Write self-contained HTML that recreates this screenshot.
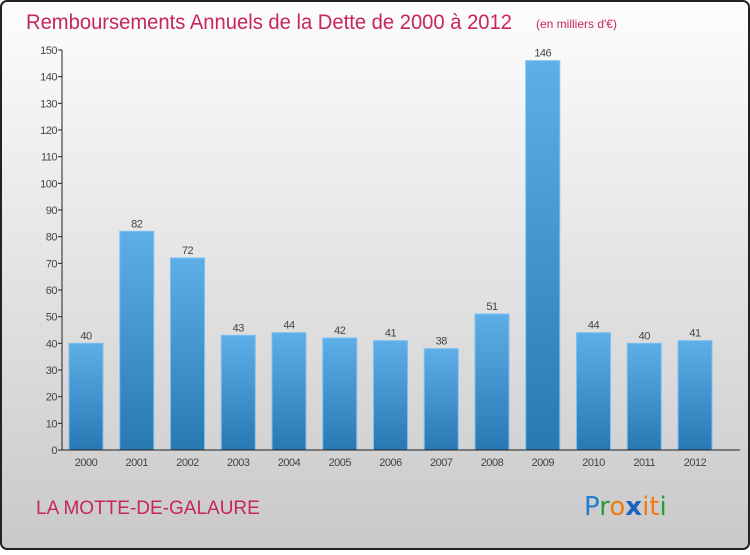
<!DOCTYPE html>
<html><head><meta charset="utf-8"><style>
html,body{margin:0;padding:0}
body{width:750px;height:550px;overflow:hidden;font-family:"Liberation Sans",sans-serif}
</style></head><body>
<svg id="chart" width="750" height="550" xmlns="http://www.w3.org/2000/svg">
<defs>
<linearGradient id="bg" x1="0" y1="0" x2="0" y2="1"><stop offset="0" stop-color="#fdfdfd"/><stop offset="1" stop-color="#c9c9c9"/></linearGradient>
<linearGradient id="bar" x1="0" y1="0" x2="0" y2="1"><stop offset="0" stop-color="#5eaee8"/><stop offset="1" stop-color="#2878b4"/></linearGradient>
</defs>
<rect x="1" y="1" width="748" height="548" rx="6" fill="url(#bg)" stroke="#222" stroke-width="2"/>
<text x="26" y="29" font-size="21" fill="#c8255a" textLength="486" lengthAdjust="spacingAndGlyphs">Remboursements Annuels de la Dette de 2000 à 2012</text>
<text x="536" y="28" font-size="12" fill="#c8255a">(en milliers d'€)</text>
<text x="36" y="514" font-size="19" fill="#c8255a">LA MOTTE-DE-GALAURE</text>
<g font-size="26" font-family="'DejaVu Sans',sans-serif">
<text x="584" y="515"><tspan fill="#1e7fd0">P</tspan><tspan fill="#2a9a3a">r</tspan><tspan fill="#f07c10">o</tspan><tspan fill="#1e60c0" font-weight="bold">x</tspan><tspan fill="#f07c10">i</tspan><tspan fill="#f07c10">t</tspan><tspan fill="#2a9a3a">i</tspan></text>
</g>
<g id="plot"></g>
</svg>
<script>
const categories=["2000","2001","2002","2003","2004","2005","2006","2007","2008","2009","2010","2011","2012"];
const values=[40,82,72,43,44,42,41,38,51,146,44,40,41];
const yTicks=[0,10,20,30,40,50,60,70,80,90,100,110,120,130,140,150];
const NS="http://www.w3.org/2000/svg";
const g=document.getElementById('plot');
const x0=62,y0=450,yMax=150,plotH=400,step=50.75,bw=34;
const y=v=>y0-v/yMax*plotH;
const xc=i=>86+i*step;
function mk(t,a){const e=document.createElementNS(NS,t);for(const k in a)e.setAttribute(k,a[k]);g.appendChild(e);return e;}
yTicks.forEach(v=>{
 const l=mk('line',{x1:x0-4,x2:x0,y1:y(v),y2:y(v),stroke:'#222'});
 
 
 const t=mk('text',{x:x0-5,y:y(v)+4,'text-anchor':'end','font-size':11,fill:'#444','letter-spacing':'-0.5'});
 t.textContent=v;
 
 
});
values.forEach((v,i)=>{
 const r=mk('rect',{x:xc(i)-bw/2,y:y(v),width:bw,height:y0-y(v),fill:'url(#bar)',stroke:'#7cc0f0','stroke-width':1});
 
 
 const t=mk('text',{x:xc(i),y:y(v)-4,'text-anchor':'middle','font-size':11,fill:'#444','letter-spacing':'-0.5'});
 t.textContent=v;
 
 
 const c=mk('text',{x:xc(i),y:466,'text-anchor':'middle','font-size':11,fill:'#444','letter-spacing':'-0.5'});
 c.textContent=categories[i];
 
 
});
const ya=mk('line',{x1:x0,x2:x0,y1:y(yMax),y2:y0,stroke:'#222'});


const xa=mk('line',{x1:x0,x2:740,y1:y0,y2:y0,stroke:'#222'});


</script>
</body></html>
